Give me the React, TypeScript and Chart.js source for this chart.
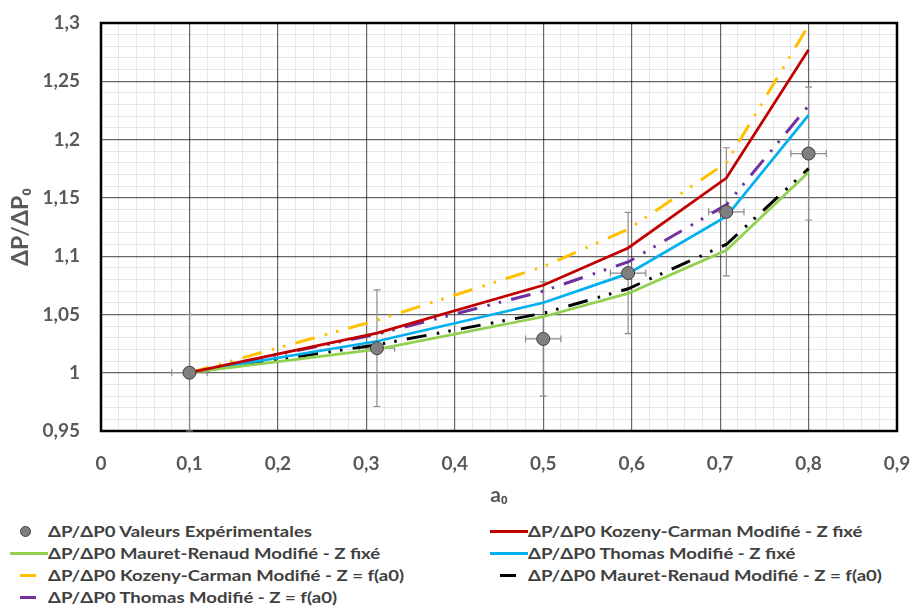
import React, { useEffect, useRef } from 'react';
import { Chart, registerables } from 'chart.js';

Chart.register(...registerables);

// ---- data ----
const a0Values = [0.1, 0.312, 0.5, 0.596, 0.707, 0.8];
const expValues = [1.0, 1.021, 1.029, 1.0855, 1.138, 1.188];
const expYError = [0.05, 0.05, 0.049, 0.052, 0.055, 0.057];
const expXError = [0.02, 0.02, 0.02, 0.02, 0.02, 0.02];
const kozenyFixe = [1, 1.034, 1.075, 1.107, 1.167, 1.277];
const mauretFixe = [1, 1.02, 1.048, 1.068, 1.105, 1.172];
const thomasFixe = [1, 1.027, 1.06, 1.085, 1.134, 1.221];
const kozenyVar = [1, 1.045, 1.091, 1.123, 1.18, 1.298];
const mauretVar = [1, 1.024, 1.051, 1.072, 1.11, 1.175];
const thomasVar = [1, 1.033, 1.07, 1.095, 1.144, 1.229];

const xMajorTicks = [0, 0.1, 0.2, 0.3, 0.4, 0.5, 0.6, 0.7, 0.8, 0.9];
const yMajorTicks = [0.95, 1, 1.05, 1.1, 1.15, 1.2, 1.25, 1.3];
const xMinorStep = 0.02;
const yMinorStep = 0.01;

const seriesLabels = [
  'ΔP/ΔP0 Valeurs Expérimentales',
  'ΔP/ΔP0 Kozeny-Carman Modifié - Z fixé',
  'ΔP/ΔP0 Mauret-Renaud Modifié - Z fixé',
  'ΔP/ΔP0 Thomas Modifié - Z fixé',
  'ΔP/ΔP0 Kozeny-Carman Modifié - Z = f(a0)',
  'ΔP/ΔP0 Mauret-Renaud Modifié - Z = f(a0)',
  'ΔP/ΔP0 Thomas Modifié - Z = f(a0)',
];
const seriesColors = ['#7f7f7f', '#C00000', '#92D050', '#00B0F0', '#FFC000', '#000000', '#7030A0'];
const seriesKinds = ['point', 'solid', 'solid', 'solid', 'dash', 'dash', 'dash'];
const modelSeries = [kozenyFixe, mauretFixe, thomasFixe, kozenyVar, mauretVar, thomasVar];

const FONT = 'Lato, "Open Sans", "DejaVu Sans", sans-serif';
const DASH = [20, 10.5, 2.5, 9.2, 2.5, 10.3];
const W = 912;
const H = 520;
const MAJOR = 'rgba(0,0,0,0.6)';
const MINOR = 'rgba(0,0,0,0.09)';

const fmt = (v: number) => String(Math.round(v * 1000) / 1000).replace('.', ',');
const isMultiple = (v: number, step: number) => Math.abs(v / step - Math.round(v / step)) < 1e-6;

const buildTicks = (min: number, max: number, step: number) => {
  const out: { value: number }[] = [];
  const n = Math.round((max - min) / step);
  for (let i = 0; i <= n; i++) out.push({ value: Math.round((min + i * step) * 10000) / 10000 });
  return out;
};

const errorBarPlugin = {
  id: 'errorBars',
  beforeDatasetsDraw(chart: any) {
    const { ctx, chartArea, scales } = chart;
    const xs = scales.x;
    const ys = scales.y;
    ctx.save();
    // plot frame
    ctx.strokeStyle = '#000';
    ctx.lineWidth = 2.5;
    ctx.strokeRect(chartArea.left, chartArea.top, chartArea.right - chartArea.left, chartArea.bottom - chartArea.top);
    // error bars
    ctx.strokeStyle = '#8c8c8c';
    ctx.lineWidth = 1.2;
    a0Values.forEach((xv, i) => {
      const px = xs.getPixelForValue(xv);
      const py = ys.getPixelForValue(expValues[i]);
      const yt = ys.getPixelForValue(expValues[i] + expYError[i]);
      const yb = ys.getPixelForValue(expValues[i] - expYError[i]);
      const xl = xs.getPixelForValue(xv - expXError[i]);
      const xr = xs.getPixelForValue(xv + expXError[i]);
      const c = 3.5;
      ctx.beginPath();
      ctx.moveTo(px, yt); ctx.lineTo(px, yb);
      ctx.moveTo(px - c, yt); ctx.lineTo(px + c, yt);
      ctx.moveTo(px - c, yb); ctx.lineTo(px + c, yb);
      ctx.moveTo(xl, py); ctx.lineTo(xr, py);
      ctx.moveTo(xl, py - c); ctx.lineTo(xl, py + c);
      ctx.moveTo(xr, py - c); ctx.lineTo(xr, py + c);
      ctx.stroke();
    });
    ctx.restore();
  },
};

const LegendMarker = ({ kind, color }: { kind: string; color: string }) => {
  if (kind === 'point') {
    return (
      <div style={{ position: 'absolute', left: 10, top: 6, width: 9, height: 9, borderRadius: '50%', background: color, border: '1px solid #404040' }} />
    );
  }
  if (kind === 'solid') {
    return <div style={{ position: 'absolute', left: 0, top: 10, width: 38, height: 3, background: color }} />;
  }
  return <div style={{ position: 'absolute', left: 10, top: 10, width: 16, height: 3, background: color }} />;
};

export default function App() {
  const canvasRef = useRef<HTMLCanvasElement>(null);

  useEffect(() => {
    if (!canvasRef.current) return;
    const datasets: any[] = [
      {
        label: seriesLabels[0],
        data: a0Values.map((x, i) => ({ x, y: expValues[i] })),
        showLine: false,
        pointRadius: 6.5,
        pointBackgroundColor: '#7f7f7f',
        pointBorderColor: '#404040',
        pointBorderWidth: 1,
      },
      ...modelSeries.map((vals, k) => ({
        label: seriesLabels[k + 1],
        data: a0Values.map((x, i) => ({ x, y: vals[i] })),
        showLine: true,
        borderColor: seriesColors[k + 1],
        backgroundColor: seriesColors[k + 1],
        borderWidth: seriesKinds[k + 1] === 'dash' ? 3 : 2.75,
        borderDash: seriesKinds[k + 1] === 'dash' ? DASH : [],
        borderCapStyle: 'butt',
        pointRadius: 0,
        tension: 0,
      })),
    ];

    const chart = new Chart(canvasRef.current, {
      type: 'scatter',
      data: { datasets },
      plugins: [errorBarPlugin],
      options: {
        animation: false,
        responsive: false,
        layout: { padding: { left: 0, top: 23, right: 15, bottom: 0 } },
        plugins: { legend: { display: false }, tooltip: { enabled: false } },
        scales: {
          x: {
            type: 'linear',
            min: 0,
            max: 0.9,
            afterBuildTicks: (s: any) => { s.ticks = buildTicks(0, 0.9, xMinorStep); },
            afterFit: (s: any) => {
              s.height = H - 431;
              s.paddingLeft = 0;
              s.paddingRight = 0;
            },
            border: { display: false },
            grid: {
              drawTicks: false,
              color: (c: any) => (isMultiple(c.tick.value, 0.1) ? MAJOR : MINOR),
              lineWidth: (c: any) => (isMultiple(c.tick.value, 0.1) ? 1.2 : 1),
            },
            ticks: {
              autoSkip: false,
              maxRotation: 0,
              minRotation: 0,
              padding: 21,
              color: '#595959',
              font: { family: FONT, size: 19, weight: 'bold' },
              callback: (v: any) => (xMajorTicks.some((m) => Math.abs(m - v) < 1e-6) ? fmt(v) : ''),
            },
            title: {
              display: true,
              text: 'a₀',
              color: '#595959',
              font: { family: FONT, size: 21, weight: 'bold' },
              padding: { top: 0, bottom: 12 },
            },
          },
          y: {
            type: 'linear',
            min: 0.95,
            max: 1.3,
            afterBuildTicks: (s: any) => { s.ticks = buildTicks(0.95, 1.3, yMinorStep); },
            afterFit: (s: any) => {
              s.width = 101;
              s.paddingTop = 0;
              s.paddingBottom = 0;
            },
            border: { display: false },
            grid: {
              drawTicks: false,
              color: (c: any) => (isMultiple(c.tick.value - 0.95, 0.05) ? MAJOR : MINOR),
              lineWidth: (c: any) => (isMultiple(c.tick.value - 0.95, 0.05) ? 1.2 : 1),
            },
            ticks: {
              autoSkip: false,
              padding: 21,
              color: '#595959',
              font: { family: FONT, size: 19, weight: 'bold' },
              callback: (v: any) => (yMajorTicks.some((m) => Math.abs(m - v) < 1e-6) ? fmt(v) : ''),
            },
            title: {
              display: true,
              text: 'ΔP/ΔP₀',
              color: '#595959',
              font: { family: FONT, size: 23, weight: 'bold' },
              padding: { top: 7, bottom: 0 },
            },
          },
        },
      } as any,
    });
    return () => chart.destroy();
  }, []);

  const legendItems = seriesLabels.map((label, i) => ({
    label,
    color: seriesColors[i],
    kind: seriesKinds[i],
    col: i % 2,
    row: Math.floor(i / 2),
  }));

  return (
    <div style={{ position: 'absolute', left: 0, top: 0, width: W, height: 614, background: '#fff', overflow: 'hidden' }}>
      <canvas ref={canvasRef} width={W} height={H} style={{ display: 'block', width: W, height: H }} />
      {legendItems.map((it) => (
        <div
          key={it.label}
          style={{
            position: 'absolute',
            left: it.col === 0 ? 10 : 490,
            top: 520 + it.row * 22,
            height: 22,
            whiteSpace: 'nowrap',
          }}
        >
          <LegendMarker kind={it.kind} color={it.color} />
          <span
            style={{
              position: 'absolute',
              left: 38,
              top: 0,
              lineHeight: '22px',
              fontFamily: FONT,
              fontWeight: 'bold',
              fontSize: 16,
              color: '#404040',
              transform: 'scaleX(1.16)',
              transformOrigin: '0 50%',
            }}
          >
            {it.label}
          </span>
        </div>
      ))}
    </div>
  );
}
